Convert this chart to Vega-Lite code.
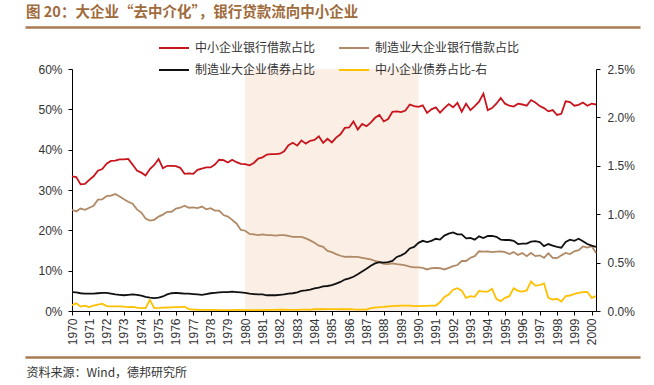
{
 "$schema": "https://vega.github.io/schema/vega-lite/v6.json",
 "width": 524,
 "height": 242,
 "autosize": "none",
 "padding": {"left": 72, "top": 69, "right": 58, "bottom": 74},
 "background": "white",
 "title": {"text": "图 20：大企业“去中介化”，银行贷款流向中小企业", "anchor": "start", "frame": "group", "dx": -46, "offset": 7, "font": "Noto Sans CJK SC", "fontSize": 14.5, "fontWeight": "bold", "color": "#A06B3C"},
 "data": {"values": [
  {"t":"1970-01-01","a":33.4,"b":25.1,"c":4.7,"d":0.06},
  {"t":"1970-04-01","a":33.2,"b":24.7,"c":4.6,"d":0.08},
  {"t":"1970-07-01","a":31.4,"b":25.4,"c":4.4,"d":0.045},
  {"t":"1970-10-01","a":31.5,"b":25.1,"c":4.3,"d":0.055},
  {"t":"1971-01-01","a":32.5,"b":25.6,"c":4.3,"d":0.04},
  {"t":"1971-04-01","a":33.4,"b":26.1,"c":4.3,"d":0.055},
  {"t":"1971-07-01","a":34.8,"b":27.6,"c":4.4,"d":0.065},
  {"t":"1971-10-01","a":35.2,"b":27.7,"c":4.5,"d":0.075},
  {"t":"1972-01-01","a":36.5,"b":28.5,"c":4.5,"d":0.05},
  {"t":"1972-04-01","a":37.2,"b":28.6,"c":4.3,"d":0.048},
  {"t":"1972-07-01","a":37.3,"b":29.0,"c":4.1,"d":0.048},
  {"t":"1972-10-01","a":37.6,"b":28.4,"c":4.0,"d":0.048},
  {"t":"1973-01-01","a":37.6,"b":27.7,"c":3.9,"d":0.045},
  {"t":"1973-04-01","a":37.7,"b":27.1,"c":4.0,"d":0.04},
  {"t":"1973-07-01","a":36.3,"b":26.6,"c":4.1,"d":0.042},
  {"t":"1973-10-01","a":34.8,"b":25.2,"c":4.0,"d":0.035},
  {"t":"1974-01-01","a":34.3,"b":24.4,"c":3.8,"d":0.03},
  {"t":"1974-04-01","a":33.6,"b":22.9,"c":3.5,"d":0.03},
  {"t":"1974-07-01","a":35.2,"b":22.4,"c":3.3,"d":0.115},
  {"t":"1974-10-01","a":36.2,"b":22.6,"c":3.2,"d":0.03},
  {"t":"1975-01-01","a":37.7,"b":23.4,"c":3.3,"d":0.032},
  {"t":"1975-04-01","a":35.4,"b":23.9,"c":3.6,"d":0.035},
  {"t":"1975-07-01","a":36.0,"b":24.6,"c":4.1,"d":0.036},
  {"t":"1975-10-01","a":36.0,"b":24.6,"c":4.4,"d":0.038},
  {"t":"1976-01-01","a":35.9,"b":25.4,"c":4.5,"d":0.04},
  {"t":"1976-04-01","a":35.5,"b":25.6,"c":4.4,"d":0.04},
  {"t":"1976-07-01","a":34.0,"b":26.1,"c":4.3,"d":0.045},
  {"t":"1976-10-01","a":34.1,"b":25.6,"c":4.3,"d":0.02},
  {"t":"1977-01-01","a":34.0,"b":25.7,"c":4.2,"d":0.015},
  {"t":"1977-04-01","a":35.0,"b":25.5,"c":4.1,"d":0.013},
  {"t":"1977-07-01","a":35.3,"b":25.9,"c":4.0,"d":0.012},
  {"t":"1977-10-01","a":35.6,"b":25.2,"c":4.2,"d":0.012},
  {"t":"1978-01-01","a":35.6,"b":25.5,"c":4.4,"d":0.011},
  {"t":"1978-04-01","a":36.3,"b":24.9,"c":4.5,"d":0.011},
  {"t":"1978-07-01","a":37.5,"b":24.9,"c":4.6,"d":0.01},
  {"t":"1978-10-01","a":37.4,"b":23.8,"c":4.7,"d":0.01},
  {"t":"1979-01-01","a":36.8,"b":23.4,"c":4.7,"d":0.01},
  {"t":"1979-04-01","a":37.5,"b":22.6,"c":4.8,"d":0.01},
  {"t":"1979-07-01","a":36.9,"b":21.7,"c":4.7,"d":0.012},
  {"t":"1979-10-01","a":36.5,"b":20.1,"c":4.6,"d":0.012},
  {"t":"1980-01-01","a":36.4,"b":19.9,"c":4.5,"d":0.01},
  {"t":"1980-04-01","a":36.1,"b":19.1,"c":4.3,"d":0.01},
  {"t":"1980-07-01","a":36.7,"b":19.0,"c":4.2,"d":0.01},
  {"t":"1980-10-01","a":37.8,"b":18.8,"c":4.1,"d":0.01},
  {"t":"1981-01-01","a":38.1,"b":19.0,"c":4.1,"d":0.01},
  {"t":"1981-04-01","a":38.8,"b":18.8,"c":3.9,"d":0.012},
  {"t":"1981-07-01","a":38.9,"b":18.8,"c":3.9,"d":0.012},
  {"t":"1981-10-01","a":38.9,"b":18.7,"c":3.9,"d":0.012},
  {"t":"1982-01-01","a":39.0,"b":18.8,"c":4.0,"d":0.013},
  {"t":"1982-04-01","a":39.6,"b":18.8,"c":4.1,"d":0.013},
  {"t":"1982-07-01","a":41.1,"b":18.6,"c":4.3,"d":0.012},
  {"t":"1982-10-01","a":41.7,"b":18.4,"c":4.4,"d":0.012},
  {"t":"1983-01-01","a":41.0,"b":18.4,"c":4.6,"d":0.012},
  {"t":"1983-04-01","a":42.3,"b":18.4,"c":5.0,"d":0.015},
  {"t":"1983-07-01","a":41.5,"b":18.0,"c":5.1,"d":0.014},
  {"t":"1983-10-01","a":42.2,"b":17.5,"c":5.3,"d":0.012},
  {"t":"1984-01-01","a":42.4,"b":16.9,"c":5.6,"d":0.018},
  {"t":"1984-04-01","a":43.3,"b":16.2,"c":5.8,"d":0.02},
  {"t":"1984-07-01","a":41.7,"b":15.9,"c":6.1,"d":0.018},
  {"t":"1984-10-01","a":42.7,"b":14.9,"c":6.2,"d":0.02},
  {"t":"1985-01-01","a":41.8,"b":14.6,"c":6.4,"d":0.02},
  {"t":"1985-04-01","a":43.0,"b":14.1,"c":6.8,"d":0.02},
  {"t":"1985-07-01","a":43.8,"b":13.7,"c":7.2,"d":0.018},
  {"t":"1985-10-01","a":45.4,"b":13.4,"c":7.8,"d":0.02},
  {"t":"1986-01-01","a":45.5,"b":13.5,"c":8.1,"d":0.018},
  {"t":"1986-04-01","a":47.0,"b":13.4,"c":8.5,"d":0.016},
  {"t":"1986-07-01","a":45.0,"b":13.4,"c":9.1,"d":0.015},
  {"t":"1986-10-01","a":46.4,"b":13.2,"c":9.8,"d":0.015},
  {"t":"1987-01-01","a":45.8,"b":13.0,"c":10.5,"d":0.015},
  {"t":"1987-04-01","a":46.7,"b":12.8,"c":11.2,"d":0.03},
  {"t":"1987-07-01","a":47.9,"b":12.4,"c":11.8,"d":0.035},
  {"t":"1987-10-01","a":48.6,"b":12.1,"c":12.1,"d":0.04},
  {"t":"1988-01-01","a":47.0,"b":11.7,"c":12.0,"d":0.043},
  {"t":"1988-04-01","a":47.6,"b":11.6,"c":12.1,"d":0.047},
  {"t":"1988-07-01","a":49.4,"b":11.8,"c":12.4,"d":0.05},
  {"t":"1988-10-01","a":49.5,"b":11.6,"c":13.4,"d":0.052},
  {"t":"1989-01-01","a":49.3,"b":11.5,"c":13.8,"d":0.055},
  {"t":"1989-04-01","a":49.7,"b":11.3,"c":14.4,"d":0.056},
  {"t":"1989-07-01","a":51.2,"b":11.0,"c":15.5,"d":0.056},
  {"t":"1989-10-01","a":50.8,"b":10.8,"c":15.9,"d":0.05},
  {"t":"1990-01-01","a":50.6,"b":10.8,"c":16.9,"d":0.05},
  {"t":"1990-04-01","a":51.0,"b":10.7,"c":17.4,"d":0.052},
  {"t":"1990-07-01","a":49.1,"b":10.3,"c":17.1,"d":0.053},
  {"t":"1990-10-01","a":50.0,"b":10.6,"c":17.4,"d":0.055},
  {"t":"1991-01-01","a":50.5,"b":10.7,"c":17.9,"d":0.056},
  {"t":"1991-04-01","a":49.2,"b":10.6,"c":17.7,"d":0.09},
  {"t":"1991-07-01","a":50.3,"b":10.3,"c":18.7,"d":0.145},
  {"t":"1991-10-01","a":51.3,"b":10.7,"c":19.2,"d":0.17},
  {"t":"1992-01-01","a":50.5,"b":11.1,"c":19.5,"d":0.22},
  {"t":"1992-04-01","a":51.6,"b":11.4,"c":19.0,"d":0.235},
  {"t":"1992-07-01","a":49.4,"b":12.4,"c":19.0,"d":0.21},
  {"t":"1992-10-01","a":51.4,"b":12.4,"c":18.0,"d":0.135},
  {"t":"1993-01-01","a":49.8,"b":13.2,"c":18.1,"d":0.153},
  {"t":"1993-04-01","a":50.8,"b":13.6,"c":17.7,"d":0.146},
  {"t":"1993-07-01","a":51.9,"b":14.8,"c":18.5,"d":0.208},
  {"t":"1993-10-01","a":53.9,"b":14.7,"c":18.1,"d":0.201},
  {"t":"1994-01-01","a":49.8,"b":14.8,"c":18.6,"d":0.201},
  {"t":"1994-04-01","a":50.3,"b":14.6,"c":18.6,"d":0.229},
  {"t":"1994-07-01","a":51.4,"b":14.7,"c":18.4,"d":0.126},
  {"t":"1994-10-01","a":52.8,"b":14.8,"c":17.7,"d":0.102},
  {"t":"1995-01-01","a":51.4,"b":14.6,"c":17.6,"d":0.136},
  {"t":"1995-04-01","a":50.9,"b":14.1,"c":17.6,"d":0.153},
  {"t":"1995-07-01","a":50.7,"b":14.6,"c":17.4,"d":0.236},
  {"t":"1995-10-01","a":51.4,"b":13.9,"c":16.6,"d":0.208},
  {"t":"1996-01-01","a":51.2,"b":14.4,"c":16.7,"d":0.201},
  {"t":"1996-04-01","a":50.9,"b":13.6,"c":16.7,"d":0.212},
  {"t":"1996-07-01","a":52.3,"b":14.4,"c":17.2,"d":0.305},
  {"t":"1996-10-01","a":51.7,"b":13.6,"c":17.3,"d":0.263},
  {"t":"1997-01-01","a":50.8,"b":13.8,"c":17.1,"d":0.267},
  {"t":"1997-04-01","a":50.3,"b":13.2,"c":16.1,"d":0.284},
  {"t":"1997-07-01","a":49.5,"b":14.3,"c":16.6,"d":0.136},
  {"t":"1997-10-01","a":49.8,"b":13.2,"c":16.2,"d":0.119},
  {"t":"1998-01-01","a":48.6,"b":13.1,"c":15.9,"d":0.126},
  {"t":"1998-04-01","a":48.9,"b":13.8,"c":15.7,"d":0.098},
  {"t":"1998-07-01","a":52.0,"b":14.4,"c":17.1,"d":0.153},
  {"t":"1998-10-01","a":51.8,"b":14.1,"c":17.7,"d":0.16},
  {"t":"1999-01-01","a":50.9,"b":14.8,"c":17.4,"d":0.177},
  {"t":"1999-04-01","a":51.1,"b":15.1,"c":17.9,"d":0.188},
  {"t":"1999-07-01","a":51.7,"b":16.0,"c":17.3,"d":0.195},
  {"t":"1999-10-01","a":50.9,"b":15.7,"c":16.6,"d":0.198},
  {"t":"2000-01-01","a":51.4,"b":16.1,"c":16.2,"d":0.136},
  {"t":"2000-04-01","a":51.2,"b":14.4,"c":15.9,"d":0.153}
 ]},
 "resolve": {"scale": {"x": "independent", "y": "independent"}},
 "layer": [
  {
   "data": {"values": [{"start": "1980-01-01", "end": "1990-01-01"}]},
   "mark": {"type": "rect", "color": "#FBEEE5"},
   "encoding": {
    "x": {"field": "start", "type": "temporal", "scale": {"type": "utc", "domain": [{"year": 1970, "month": 1, "date": 1, "utc": true}, {"year": 2000, "month": 4, "date": 1, "utc": true}]}, "axis": null},
    "x2": {"field": "end"}
   }
  },
  {
   "mark": {"type": "point", "opacity": 0},
   "encoding": {
    "x": {"field": "t", "type": "temporal", "scale": {"type": "utc", "range": [-47, 568], "domain": [{"year": 1970, "month": 1, "date": 1, "utc": true}, {"year": 2000, "month": 4, "date": 1, "utc": true}]},
          "axis": {"orient": "top", "offset": 42, "labels": false, "ticks": false, "title": null, "grid": false, "domainColor": "#A77A52", "domainWidth": 2.5}}
   }
  },
  {
   "mark": {"type": "point", "opacity": 0},
   "encoding": {
    "x": {"field": "t", "type": "temporal", "scale": {"type": "utc", "range": [-47, 568], "domain": [{"year": 1970, "month": 1, "date": 1, "utc": true}, {"year": 2000, "month": 4, "date": 1, "utc": true}]},
          "axis": {"orient": "bottom", "offset": 46, "labels": false, "ticks": false, "title": null, "grid": false, "domainColor": "#A77A52", "domainWidth": 2.5}}
   }
  },
  {
   "mark": {"type": "line", "strokeWidth": 1.8},
   "encoding": {
    "x": {"field": "t", "type": "temporal", "scale": {"type": "utc", "domain": [{"year": 1970, "month": 1, "date": 1, "utc": true}, {"year": 2000, "month": 4, "date": 1, "utc": true}]}, "axis": null},
    "y": {"field": "b", "type": "quantitative", "scale": {"domain": [0, 60], "nice": false}, "axis": null},
    "color": {"datum": "制造业大企业银行借款占比", "type": "nominal"}
   }
  },
  {
   "mark": {"type": "line", "strokeWidth": 1.8},
   "encoding": {
    "x": {"field": "t", "type": "temporal", "scale": {"type": "utc", "domain": [{"year": 1970, "month": 1, "date": 1, "utc": true}, {"year": 2000, "month": 4, "date": 1, "utc": true}]}, "axis": null},
    "y": {"field": "c", "type": "quantitative", "scale": {"domain": [0, 60], "nice": false}, "axis": null},
    "color": {"datum": "制造业大企业债券占比", "type": "nominal"}
   }
  },
  {
   "mark": {"type": "line", "strokeWidth": 1.8},
   "encoding": {
    "x": {"field": "t", "type": "temporal", "scale": {"type": "utc", "domain": [{"year": 1970, "month": 1, "date": 1, "utc": true}, {"year": 2000, "month": 4, "date": 1, "utc": true}]},
          "axis": {"orient": "bottom", "format": "%Y", "tickCount": {"interval": "year", "step": 1}, "labelAngle": 270, "labelPadding": 3, "labelFontSize": 12, "labelOverlap": false, "grid": false,
                   "title": "资料来源：Wind，德邦研究所", "titleAnchor": "start", "titleAlign": "left", "titleBaseline": "middle", "titleAngle": 0, "titleX": -46, "titleY": 61, "titleFont": "Noto Sans CJK SC", "titleFontSize": 12, "titleFontWeight": "normal", "titleColor": "#333333"}},
    "y": {"field": "a", "type": "quantitative", "scale": {"domain": [0, 60], "nice": false},
          "axis": {"orient": "left", "values": [0, 10, 20, 30, 40, 50, 60], "labelExpr": "datum.value + '%'", "title": null, "grid": false, "labelPadding": 6}},
    "color": {"datum": "中小企业银行借款占比", "type": "nominal",
              "scale": {"domain": ["中小企业银行借款占比", "制造业大企业债券占比", "制造业大企业银行借款占比", "中小企业债券占比-右"], "range": ["#C8141C", "#111111", "#B08A66", "#FFC000"]},
              "legend": {"orient": "none", "legendX": 86, "legendY": -37, "columns": 2, "title": null, "symbolType": "stroke", "symbolSize": 900, "symbolStrokeWidth": 2, "labelFont": "Noto Sans CJK SC", "labelFontSize": 12, "labelColor": "#333333", "labelOffset": 5, "columnPadding": 19, "rowPadding": 0}}
   }
  },
  {
   "mark": {"type": "line", "strokeWidth": 1.8},
   "encoding": {
    "x": {"field": "t", "type": "temporal", "scale": {"type": "utc", "domain": [{"year": 1970, "month": 1, "date": 1, "utc": true}, {"year": 2000, "month": 4, "date": 1, "utc": true}]}, "axis": null},
    "y": {"field": "d", "type": "quantitative", "scale": {"domain": [0, 2.5], "nice": false},
          "axis": {"orient": "right", "values": [0, 0.5, 1, 1.5, 2, 2.5], "labelExpr": "format(datum.value, '.1f') + '%'", "title": null, "grid": false, "labelPadding": 7}},
    "color": {"datum": "中小企业债券占比-右", "type": "nominal"}
   }
  }
 ],
 "config": {
  "view": {"stroke": null},
  "axis": {"domainColor": "#000000", "tickColor": "#000000", "labelColor": "#333333", "labelFont": "Liberation Sans", "labelFontSize": 12, "tickSize": 4, "domainWidth": 1, "tickWidth": 1}
 }
}
